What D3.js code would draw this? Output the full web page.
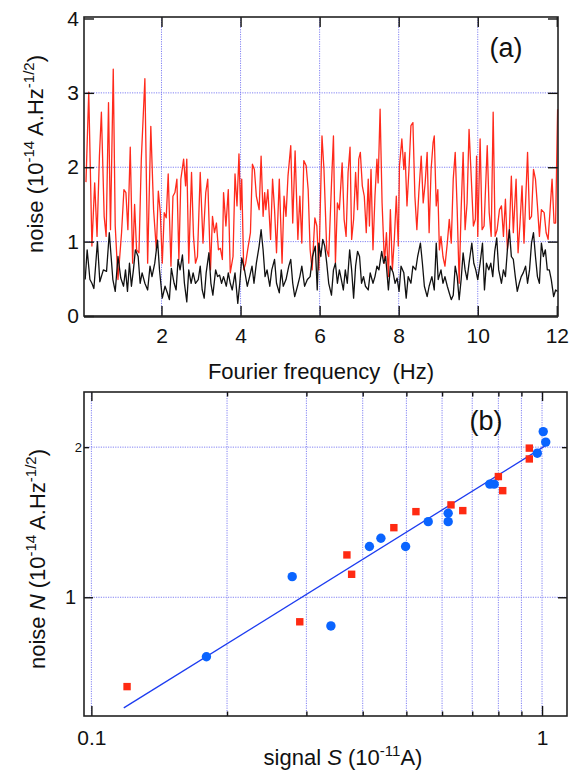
<!DOCTYPE html>
<html>
<head>
<meta charset="utf-8">
<script src="https://cdn.jsdelivr.net/npm/d3@7"></script>
<style>
	body { margin: 0; background: #fff; }
	svg { display: block; font-family: "Liberation Sans", Arial, Helvetica, sans-serif; }
	text { white-space: pre; }
</style>
</head>
<body>
<svg id="fig" width="574" height="771"></svg>
<script>
// ---- panel (a): noise spectra, [frequency (Hz), noise (1e-14 A.Hz^-1/2)]
const redTrace = [
	[0.09,1.80],[0.16,3.01],[0.24,0.94],[0.31,1.79],[0.37,1.07],[0.43,2.15],[0.48,2.74],[0.55,1.34],[0.60,1.07],[0.66,2.87],
	[0.71,1.16],[0.78,3.32],[0.83,1.21],[0.90,0.49],[0.99,1.12],[1.05,1.70],[1.10,1.66],[1.15,1.16],[1.21,2.27],[1.27,0.71],
	[1.32,1.50],[1.37,0.89],[1.43,0.85],[1.49,2.11],[1.58,3.19],[1.65,0.71],[1.73,2.55],[1.80,1.43],[1.87,0.89],[1.92,1.68],
	[1.97,1.39],[2.02,0.71],[2.07,1.39],[2.12,1.32],[2.17,1.91],[2.24,0.67],[2.29,1.61],[2.34,1.66],[2.39,1.84],[2.44,0.76],
	[2.49,1.84],[2.56,2.11],[2.61,1.75],[2.64,2.11],[2.69,0.71],[2.76,1.93],[2.81,1.07],[2.86,0.71],[2.91,0.80],[2.98,1.93],
	[3.05,0.98],[3.12,1.66],[3.17,1.84],[3.24,0.62],[3.29,1.34],[3.34,1.12],[3.39,1.25],[3.44,0.89],[3.49,0.91],[3.54,0.76],
	[3.57,1.66],[3.63,1.21],[3.69,1.70],[3.74,0.58],[3.81,0.80],[3.86,1.91],[3.91,1.48],[3.96,2.18],[4.00,1.43],[4.03,1.84],
	[4.08,0.62],[4.13,0.71],[4.18,0.89],[4.25,1.12],[4.30,2.04],[4.35,1.97],[4.40,1.61],[4.47,1.43],[4.52,2.15],[4.57,1.34],
	[4.61,1.66],[4.64,1.43],[4.69,1.70],[4.76,1.03],[4.81,1.84],[4.86,1.43],[4.91,0.85],[4.98,1.84],[5.05,0.71],[5.10,1.61],
	[5.15,1.34],[5.20,1.88],[5.27,2.29],[5.32,1.25],[5.38,2.22],[5.45,1.03],[5.50,1.61],[5.55,0.98],[5.60,2.09],[5.66,2.02],
	[5.71,1.70],[5.76,0.89],[5.81,0.62],[5.88,1.32],[5.93,1.21],[5.98,0.62],[6.06,2.42],[6.11,1.97],[6.18,0.89],[6.23,0.80],
	[6.30,1.77],[6.35,2.42],[6.40,0.71],[6.45,1.52],[6.50,1.43],[6.57,2.06],[6.62,1.30],[6.67,1.07],[6.72,1.93],[6.77,2.27],
	[6.81,1.03],[6.86,1.30],[6.91,1.93],[6.96,1.43],[6.99,2.11],[7.03,2.20],[7.08,1.75],[7.13,1.61],[7.18,1.12],[7.23,1.84],
	[7.26,1.21],[7.30,1.97],[7.35,0.89],[7.40,1.61],[7.45,2.11],[7.48,1.79],[7.53,2.78],[7.58,1.52],[7.64,0.71],[7.69,1.12],
	[7.74,0.53],[7.79,1.43],[7.84,0.62],[7.89,1.03],[7.94,1.61],[7.99,0.94],[8.02,2.02],[8.08,2.38],[8.13,1.97],[8.16,2.20],
	[8.21,1.48],[8.26,1.97],[8.31,2.56],[8.36,2.60],[8.41,1.61],[8.46,1.16],[8.51,1.66],[8.57,2.15],[8.62,1.52],[8.67,1.79],
	[8.72,2.20],[8.77,1.12],[8.82,1.97],[8.87,2.33],[8.90,2.42],[8.95,1.48],[8.99,1.70],[9.03,0.89],[9.07,1.07],[9.12,0.80],
	[9.17,0.67],[9.23,0.98],[9.28,1.30],[9.33,0.98],[9.38,1.84],[9.43,2.20],[9.48,1.43],[9.53,0.44],[9.58,1.43],[9.63,2.20],
	[9.68,1.16],[9.73,1.52],[9.78,2.51],[9.83,1.93],[9.89,1.21],[9.94,1.30],[9.97,2.15],[10.00,1.07],[10.06,2.38],[10.11,1.16],
	[10.16,1.21],[10.24,2.29],[10.29,1.39],[10.34,1.07],[10.39,2.74],[10.44,1.07],[10.49,1.16],[10.55,1.43],[10.60,1.48],[10.65,1.07],
	[10.70,1.57],[10.75,0.89],[10.80,1.16],[10.85,1.88],[10.90,1.12],[10.97,1.84],[11.02,0.85],[11.07,1.25],[11.12,1.75],[11.17,0.98],
	[11.26,2.20],[11.31,1.30],[11.36,1.34],[11.41,1.97],[11.46,1.84],[11.51,1.48],[11.56,1.07],[11.61,1.43],[11.68,1.39],[11.73,1.12],
	[11.78,1.03],[11.83,1.43],[11.88,1.84],[11.93,1.25],[11.97,1.25],[12.02,2.78]
];

const blackTrace = [
	[0.07,0.49],[0.12,0.89],[0.19,0.49],[0.24,0.44],[0.29,0.37],[0.38,1.00],[0.44,0.46],[0.53,0.62],[0.61,0.60],[0.68,1.12],
	[0.77,0.49],[0.83,0.33],[0.90,0.80],[0.97,0.51],[1.04,0.40],[1.09,0.62],[1.14,0.33],[1.19,0.71],[1.24,0.40],[1.29,0.62],
	[1.34,0.89],[1.41,0.80],[1.46,0.44],[1.51,0.58],[1.58,0.44],[1.65,0.35],[1.71,0.67],[1.76,0.53],[1.83,0.71],[1.90,1.02],
	[1.95,0.62],[2.02,0.24],[2.09,0.40],[2.15,0.31],[2.20,0.22],[2.25,0.64],[2.32,0.44],[2.37,0.35],[2.42,0.76],[2.47,0.62],
	[2.53,0.82],[2.58,0.44],[2.64,0.19],[2.69,0.62],[2.75,0.44],[2.80,0.58],[2.86,0.44],[2.93,0.49],[2.98,0.67],[3.03,0.35],
	[3.08,0.24],[3.13,0.58],[3.20,0.85],[3.25,0.44],[3.30,0.28],[3.37,0.62],[3.42,0.53],[3.47,0.55],[3.52,0.44],[3.57,0.53],
	[3.64,0.40],[3.69,0.58],[3.74,0.44],[3.79,0.35],[3.86,0.58],[3.93,0.17],[3.98,0.44],[4.03,0.78],[4.10,0.62],[4.17,0.40],
	[4.23,0.53],[4.29,0.67],[4.34,0.44],[4.40,0.71],[4.47,0.94],[4.52,1.16],[4.57,0.89],[4.62,0.53],[4.67,0.62],[4.74,0.40],
	[4.79,0.62],[4.86,0.76],[4.91,0.44],[4.98,0.31],[5.03,0.62],[5.08,0.40],[5.15,0.49],[5.22,0.67],[5.27,0.76],[5.32,0.44],
	[5.37,0.26],[5.44,0.40],[5.50,0.53],[5.55,0.67],[5.62,0.40],[5.69,0.49],[5.76,0.53],[5.82,0.80],[5.89,0.94],[5.94,0.35],
	[5.98,0.98],[6.03,0.80],[6.08,1.03],[6.13,0.94],[6.18,0.71],[6.23,0.44],[6.30,0.28],[6.35,0.62],[6.40,0.71],[6.45,0.44],
	[6.50,0.62],[6.55,0.49],[6.60,0.35],[6.65,0.62],[6.70,0.44],[6.76,0.89],[6.81,0.62],[6.86,0.24],[6.91,0.67],[6.96,0.87],
	[7.01,0.80],[7.06,0.44],[7.11,0.53],[7.16,0.40],[7.23,0.35],[7.28,0.58],[7.35,0.44],[7.40,0.53],[7.45,0.67],[7.50,0.62],
	[7.57,0.87],[7.62,0.71],[7.67,0.80],[7.74,0.35],[7.79,0.67],[7.86,0.58],[7.91,0.44],[7.96,0.51],[8.01,0.33],[8.06,0.67],
	[8.13,0.58],[8.19,0.24],[8.24,0.53],[8.31,0.44],[8.36,0.67],[8.43,0.62],[8.48,0.80],[8.55,0.98],[8.60,0.71],[8.65,0.40],
	[8.72,0.26],[8.77,0.40],[8.84,0.53],[8.90,0.35],[8.95,0.98],[9.00,0.49],[9.07,0.62],[9.12,0.44],[9.17,0.53],[9.23,0.40],
	[9.28,0.31],[9.33,0.22],[9.38,0.28],[9.43,0.67],[9.48,0.53],[9.53,0.22],[9.58,0.49],[9.63,0.85],[9.68,0.62],[9.73,0.49],
	[9.78,0.71],[9.85,0.98],[9.90,0.71],[9.95,0.62],[10.00,0.49],[10.06,0.71],[10.12,0.98],[10.17,0.35],[10.22,0.71],[10.28,0.62],
	[10.33,0.71],[10.38,0.53],[10.43,0.87],[10.48,1.05],[10.53,0.62],[10.60,0.44],[10.65,0.62],[10.70,0.53],[10.75,0.89],[10.80,1.16],
	[10.85,0.80],[10.90,0.76],[10.95,0.53],[11.00,0.33],[11.05,0.44],[11.10,0.53],[11.15,0.58],[11.21,0.67],[11.26,0.44],[11.31,0.62],
	[11.36,0.98],[11.41,1.12],[11.46,0.80],[11.51,0.53],[11.56,0.44],[11.61,0.98],[11.66,0.80],[11.71,0.89],[11.76,0.62],[11.81,0.62],
	[11.86,0.49],[11.92,0.26],[11.97,0.35],[12.02,0.33]
];

const freqTicks = [2, 4, 6, 8, 10, 12];
const freqGrid = [2, 4, 6, 8, 10];
const noiseTicks = [0, 1, 2, 3, 4];
const noiseGrid = [1, 2, 3];

// ---- panel (b): noise vs signal, S in 1e-11 A, N in 1e-14 A.Hz^-1/2
const circleS = [0.180, 0.279, 0.340, 0.414, 0.439, 0.498, 0.559, 0.619, 0.619, 0.766, 0.783, 0.976, 1.006, 1.019];
const circleN = [0.760, 1.100, 0.876, 1.264, 1.313, 1.264, 1.418, 1.474, 1.418, 1.686, 1.686, 1.945, 2.149, 2.047];
const squareS = [0.120, 0.290, 0.369, 0.378, 0.469, 0.525, 0.628, 0.667, 0.800, 0.818, 0.937, 0.937];
const squareN = [0.662, 0.893, 1.216, 1.112, 1.379, 1.485, 1.532, 1.492, 1.746, 1.636, 1.991, 1.894];
const fitS = [0.118, 1.024];
const fitN = [0.600, 2.021];

const signalTicks = [0.1, 0.2, 0.3, 0.4, 0.5, 0.6, 0.7, 0.8, 0.9, 1];
const signalMajor = [0.1, 1];

const gridColor = "#7474f2";
const svg = d3.select("svg#fig");

function superText(sel, parts) {
	// parts: [text, kind] with kind "" | "sup" | "it"
	parts.forEach(([t, kind], i) => {
		const prev = i > 0 ? parts[i - 1][1] : "";
		let dy = 0;
		if (kind === "sup" && prev !== "sup") dy = -9;
		if (kind !== "sup" && prev === "sup") dy = 9;
		const ts = sel.append("tspan").attr("dy", dy).text(t);
		if (kind === "sup") ts.attr("font-size", 15);
		if (kind === "it") ts.attr("font-style", "italic");
	});
}

function styleAxis(g, size) {
	g.select(".domain").remove();
	g.selectAll(".tick line").attr("stroke", "#111").attr("stroke-width", 1.4);
	g.selectAll(".tick text")
		.attr("fill", "#111")
		.attr("font-family", "\"Liberation Sans\", Arial, sans-serif")
		.attr("font-size", size);
	g.attr("font-family", null).attr("font-size", null);
}

/*
 * panel (a)
 */
const xA = d3.scaleLinear().domain([0.04, 12.03]).range([84, 558]);
const yA = d3.scaleLinear().domain([0, 4.02]).range([316, 17]);
const gA = svg.append("g");

gA.selectAll("line.vgrid")
	.data(freqGrid)
	.join("line")
	.attr("x1", (d) => xA(d)).attr("x2", (d) => xA(d))
	.attr("y1", yA(0)).attr("y2", yA(4.02))
	.attr("stroke", gridColor).attr("stroke-width", 0.9).attr("stroke-dasharray", "1.2,1.2");
gA.selectAll("line.hgrid")
	.data(noiseGrid)
	.join("line")
	.attr("x1", xA(0.04)).attr("x2", xA(12.03))
	.attr("y1", (d) => yA(d)).attr("y2", (d) => yA(d))
	.attr("stroke", gridColor).attr("stroke-width", 0.9).attr("stroke-dasharray", "1.2,1.2");

const lineA = d3.line().x((d) => xA(d[0])).y((d) => yA(d[1]));
gA.append("path").datum(redTrace).attr("d", lineA)
	.attr("fill", "none").attr("stroke", "#ff2a1c").attr("stroke-width", 1.3).attr("stroke-linejoin", "round");
gA.append("path").datum(blackTrace).attr("d", lineA)
	.attr("fill", "none").attr("stroke", "#111").attr("stroke-width", 1.3).attr("stroke-linejoin", "round");

gA.append("g").attr("transform", `translate(0,${yA(0)})`)
	.call(d3.axisBottom(xA).tickValues(freqTicks).tickSize(-10).tickPadding(12).tickFormat(d3.format("d")))
	.call((g) => styleAxis(g, 21));
gA.append("g").attr("transform", `translate(0,${yA(4.02)})`)
	.call(d3.axisTop(xA).tickValues(freqTicks).tickSize(-10).tickFormat(""))
	.call((g) => styleAxis(g, 21));
gA.append("g").attr("transform", `translate(${xA(0.04)},0)`)
	.call(d3.axisLeft(yA).tickValues(noiseTicks).tickSize(-10).tickPadding(5).tickFormat(d3.format("d")))
	.call((g) => styleAxis(g, 21));
gA.append("g").attr("transform", `translate(${xA(12.03)},0)`)
	.call(d3.axisRight(yA).tickValues(noiseTicks.filter((d) => d > 0)).tickSize(-10).tickFormat(""))
	.call((g) => styleAxis(g, 21));

gA.append("rect")
	.attr("x", xA(0.04)).attr("y", yA(4.02))
	.attr("width", xA(12.03) - xA(0.04)).attr("height", yA(0) - yA(4.02))
	.attr("fill", "none").attr("stroke", "#222").attr("stroke-width", 1.6);
gA.append("line")
	.attr("x1", xA(0.04)).attr("x2", xA(12.03)).attr("y1", yA(0) + 1).attr("y2", yA(0) + 1)
	.attr("stroke", "#222").attr("stroke-width", 1.5);

gA.append("text")
	.attr("x", 321).attr("y", 379)
	.attr("text-anchor", "middle").attr("font-size", 22).attr("fill", "#111")
	.text("Fourier frequency  (Hz)");
gA.append("text")
	.attr("transform", "translate(43,154) rotate(-90)")
	.attr("text-anchor", "middle").attr("font-size", 22).attr("fill", "#111")
	.call((t) => superText(t, [["noise (10", ""], ["-14", "sup"], [" A.Hz", ""], ["-1/2", "sup"], [")", ""]]));
gA.append("text")
	.attr("x", 506).attr("y", 57)
	.attr("text-anchor", "middle").attr("font-size", 27).attr("fill", "#111")
	.text("(a)");

/*
 * panel (b)
 */
const xB = d3.scaleLog().domain([0.0963, 1.136]).range([84, 567]);
const yB = d3.scaleLog().domain([0.578, 2.58]).range([716, 392]);
const gB = svg.append("g");

gB.selectAll("line.vgrid")
	.data(signalTicks)
	.join("line")
	.attr("x1", (d) => xB(d)).attr("x2", (d) => xB(d))
	.attr("y1", yB(0.578)).attr("y2", yB(2.58))
	.attr("stroke", gridColor).attr("stroke-width", 0.9).attr("stroke-dasharray", "1.2,1.2");
gB.selectAll("line.hgrid")
	.data([1, 2])
	.join("line")
	.attr("x1", xB(0.0963)).attr("x2", xB(1.136))
	.attr("y1", (d) => yB(d)).attr("y2", (d) => yB(d))
	.attr("stroke", gridColor).attr("stroke-width", 0.9).attr("stroke-dasharray", "1.2,1.2");

const minor = signalTicks.filter((d) => !signalMajor.includes(d));
gB.append("g").attr("transform", `translate(0,${yB(0.578)})`)
	.call(d3.axisBottom(xB).tickValues(signalMajor).tickSize(-10).tickPadding(14).tickFormat((d) => String(d)))
	.call((g) => styleAxis(g, 21));
gB.append("g").attr("transform", `translate(0,${yB(0.578)})`)
	.call(d3.axisBottom(xB).tickValues(minor).tickSize(-4.5).tickFormat(""))
	.call((g) => styleAxis(g, 21));
gB.append("g").attr("transform", `translate(0,${yB(2.58)})`)
	.call(d3.axisTop(xB).tickValues(signalMajor).tickSize(-9).tickFormat(""))
	.call((g) => styleAxis(g, 21));
gB.append("g").attr("transform", `translate(0,${yB(2.58)})`)
	.call(d3.axisTop(xB).tickValues(minor).tickSize(-4.5).tickFormat(""))
	.call((g) => styleAxis(g, 21));

gB.append("g").attr("transform", `translate(${xB(0.0963)},0)`)
	.call(d3.axisLeft(yB).tickValues([1]).tickSize(-9).tickPadding(8).tickFormat(d3.format("d")))
	.call((g) => styleAxis(g, 20));
gB.append("g").attr("transform", `translate(${xB(0.0963)},0)`)
	.call(d3.axisLeft(yB).tickValues([2]).tickSize(-5).tickPadding(2).tickFormat(d3.format("d")))
	.call((g) => styleAxis(g, 13));
gB.append("g").attr("transform", `translate(${xB(1.136)},0)`)
	.call(d3.axisRight(yB).tickValues([1]).tickSize(-9).tickFormat(""))
	.call((g) => styleAxis(g, 13));
gB.append("g").attr("transform", `translate(${xB(1.136)},0)`)
	.call(d3.axisRight(yB).tickValues([2]).tickSize(-5).tickFormat(""))
	.call((g) => styleAxis(g, 13));

gB.append("rect")
	.attr("x", xB(0.0963)).attr("y", yB(2.58))
	.attr("width", xB(1.136) - xB(0.0963)).attr("height", yB(0.578) - yB(2.58))
	.attr("fill", "none").attr("stroke", "#222").attr("stroke-width", 1.6);

// power-law fit
gB.append("path")
	.datum(d3.zip(fitS, fitN))
	.attr("d", d3.line().x((d) => xB(d[0])).y((d) => yB(d[1])))
	.attr("fill", "none").attr("stroke", "#1d3cf0").attr("stroke-width", 1.3);

const side = 7.4;
gB.selectAll("rect.sq")
	.data(d3.zip(squareS, squareN))
	.join("rect")
	.attr("x", (d) => xB(d[0]) - side / 2).attr("y", (d) => yB(d[1]) - side / 2)
	.attr("width", side).attr("height", side)
	.attr("fill", "#ff2a12");
gB.selectAll("circle.pt")
	.data(d3.zip(circleS, circleN))
	.join("circle")
	.attr("cx", (d) => xB(d[0])).attr("cy", (d) => yB(d[1]))
	.attr("r", 4.7)
	.attr("fill", "#0a64ff");

gB.append("text")
	.attr("x", 343).attr("y", 765)
	.attr("text-anchor", "middle").attr("font-size", 22).attr("fill", "#111")
	.call((t) => superText(t, [["signal ", ""], ["S", "it"], [" (10", ""], ["-11", "sup"], ["A)", ""]]));
gB.append("text")
	.attr("transform", "translate(45,559) rotate(-90)")
	.attr("text-anchor", "middle").attr("font-size", 22).attr("fill", "#111")
	.call((t) => superText(t, [["noise ", ""], ["N", "it"], [" (10", ""], ["-14", "sup"], [" A.Hz", ""], ["-1/2", "sup"], [")", ""]]));
gB.append("text")
	.attr("x", 486).attr("y", 430)
	.attr("text-anchor", "middle").attr("font-size", 27).attr("fill", "#111")
	.text("(b)");
</script>
</body>
</html>
